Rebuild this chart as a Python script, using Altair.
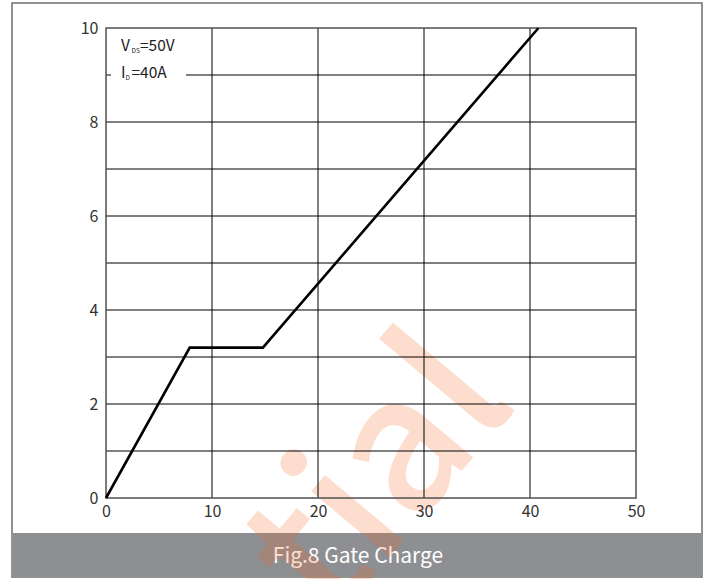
import altair as alt
import pandas as pd

# Gate charge curve: total gate charge Qg (nC) vs gate-source voltage Vgs (V)
qg = [0, 7.9, 14.8, 40.8]
vgs = [0, 3.2, 3.2, 10]

x_ticks = [0, 10, 20, 30, 40, 50]
y_ticks = [0, 2, 4, 6, 8, 10]
x_grid = [10, 20, 30, 40]
y_grid = [1, 2, 3, 4, 5, 6, 7, 8, 9]

W, H = 530, 470
FONT = "Noto Sans CJK SC"

one = pd.DataFrame({"k": [0]})
xs = alt.Scale(domain=[0, 50], nice=False, zero=False)
ys = alt.Scale(domain=[0, 10], nice=False, zero=False)

x_axis = alt.Axis(
    values=x_ticks, grid=False, domain=False, ticks=False, labelFont=FONT,
    labelFontSize=16, labelColor="#333", labelPadding=5, labelFlush=False,
    title=None, zindex=2)
y_axis = alt.Axis(
    values=y_ticks, grid=False, domain=False, ticks=False, labelFont=FONT,
    labelFontSize=16, labelColor="#333", labelPadding=8, labelFlush=False,
    title=None, zindex=2)

# outer frame of the figure
frame = alt.Chart(one).mark_rect(fill=None, stroke="#6f6f6f", strokeWidth=1.5).encode(
    x=alt.value(-94), x2=alt.value(596), y=alt.value(-25), y2=alt.value(549)
)

# caption band
band = alt.Chart(one).mark_rect(fill="#8e8f93").encode(
    x=alt.value(-93), x2=alt.value(595), y=alt.value(505), y2=alt.value(548)
)
caption = alt.Chart(one).mark_text(
    text="Fig.8 Gate Charge", font=FONT, fontSize=21, color="white",
    align="center", baseline="alphabetic"
).encode(x=alt.value(252), y=alt.value(535))

watermark = alt.Chart(one).mark_text(
    text="tial", font=FONT, fontSize=186, fontWeight=500, fill="#f26522",
    fillOpacity=0.22, align="right", baseline="alphabetic", angle=310
).encode(x=alt.value(412), y=alt.value(376))

vgrid = alt.Chart(pd.DataFrame({"v": x_grid})).mark_rule(color="black", strokeWidth=1).encode(
    x=alt.X("v:Q", scale=xs, axis=x_axis), y=alt.value(0), y2=alt.value(H)
)
hgrid = alt.Chart(pd.DataFrame({"v": y_grid})).mark_rule(color="black", strokeWidth=1).encode(
    y=alt.Y("v:Q", scale=ys, axis=y_axis), x=alt.value(0), x2=alt.value(W)
)

# white box behind the test-condition note
note_bg = alt.Chart(one).mark_rect(fill="white").encode(
    x=alt.value(5), x2=alt.value(80), y=alt.value(8), y2=alt.value(56)
)

def note(txt, x, y, size):
    return alt.Chart(one).mark_text(
        text=txt, font=FONT, fontSize=size, color="#222", align="left", baseline="alphabetic"
    ).encode(x=alt.value(x), y=alt.value(y))

notes = [
    note("V", 15, 23, 15.5), note("DS", 25.5, 25, 6.5), note("=50V", 34, 23, 15.5),
    note("I", 15, 50, 15.5), note("D", 19.5, 52, 6.5), note("=40A", 25.5, 50, 15.5),
]

border = alt.Chart(one).mark_rect(fill=None, stroke="#555", strokeWidth=1.5).encode(
    x=alt.value(0), x2=alt.value(W), y=alt.value(0), y2=alt.value(H)
)

curve = alt.Chart(pd.DataFrame({"v": qg, "vgs": vgs})).mark_line(
    color="black", strokeWidth=2.6
).encode(
    x=alt.X("v:Q", scale=xs, axis=x_axis),
    y=alt.Y("vgs:Q", scale=ys, axis=y_axis),
    order=alt.Order("v:Q"),
)

chart = alt.layer(
    frame, band, caption, watermark, vgrid, hgrid, note_bg, *notes, border, curve
).properties(
    width=W, height=H,
    padding={"left": 106, "top": 28, "right": 76, "bottom": 81},
    autosize=alt.AutoSizeParams(type="none"),
).configure_view(stroke=None).configure(background="white")

chart.save("out.html", embed_options={"renderer": "svg", "actions": False})
